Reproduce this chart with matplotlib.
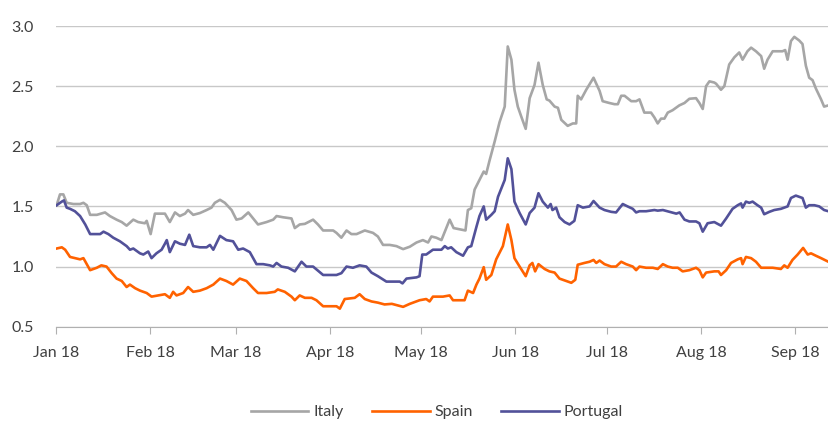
import numpy as np
import pandas as pd
import matplotlib
matplotlib.use('Agg')
import matplotlib.pyplot as plt
import matplotlib.dates as mdates

# 10y spreads style chart: Italy, Spain, Portugal (Jan - Sep 2018)
# x values are days after 1 Jan 2018

italy_days = [0.2, 1.3, 2.4, 3.5, 5.7, 7.9, 9.0, 10.1, 11.2, 13.4, 16.1, 17.7, 19.9, 21.6, 23.2,
              25.4, 27.0, 29.2, 29.8, 31.1, 32.5, 35.8, 37.4, 39.1, 40.7, 42.4, 43.4, 45.1,
              47.3, 49.5, 51.1, 52.2, 53.9, 55.5, 57.7, 59.3, 61.0, 63.2, 64.8, 66.4, 69.2,
              71.4, 72.5, 74.6, 77.4, 78.5, 80.1, 81.8, 84.5, 86.1, 87.8, 91.1, 92.2, 93.8,
              95.5, 97.1, 98.8, 101.5, 104.2, 105.8, 107.5, 109.7, 111.9, 114.1, 116.3, 118.5,
              120.6, 122.3, 123.4, 125.0, 126.7, 127.8, 129.4, 130.7, 132.7, 134.6, 135.4,
              136.5, 137.6, 139.2, 140.6, 141.4, 142.5, 144.2, 145.8, 147.5, 148.5, 149.7,
              150.7, 151.8, 152.9, 154.4, 155.7, 157.3, 158.6, 160.0, 161.3, 162.2, 163.9,
              165.0, 166.1, 168.2, 169.9, 171.0, 171.5, 172.6, 174.3, 176.7, 178.7, 179.7,
              181.9, 183.6, 184.7, 185.8, 186.9, 189.1, 190.7, 191.8, 193.4, 195.6, 196.7,
              197.8, 198.9, 200.0, 201.1, 202.7, 204.9, 206.6, 208.2, 210.4, 211.5, 212.6,
              213.7, 214.8, 216.4, 217.0, 218.6, 219.7, 221.3, 223.0, 224.6, 225.7, 227.3,
              228.5, 230.1, 231.8, 232.8, 233.9, 235.6, 237.2, 238.8, 239.7, 240.5, 241.6,
              242.7, 244.3, 245.4, 246.5, 247.6, 248.7, 249.8, 251.5, 252.5, 253.9]
italy = [1.51, 1.60, 1.60, 1.53, 1.52, 1.52, 1.53, 1.51, 1.43, 1.43, 1.45, 1.42, 1.39, 1.37, 1.34,
         1.39, 1.37, 1.36, 1.38, 1.27, 1.44, 1.44, 1.37, 1.45, 1.42, 1.44, 1.47, 1.43,
         1.445, 1.47, 1.49, 1.53, 1.555, 1.53, 1.47, 1.39, 1.40, 1.45, 1.40, 1.35, 1.37,
         1.39, 1.42, 1.41, 1.40, 1.32, 1.35, 1.355, 1.39, 1.35, 1.30, 1.30, 1.28, 1.24,
         1.30, 1.27, 1.27, 1.30, 1.28, 1.25, 1.18, 1.18, 1.17, 1.145, 1.165, 1.20,
         1.22, 1.20, 1.25, 1.24, 1.22, 1.29, 1.39, 1.32, 1.31, 1.30, 1.47,
         1.485, 1.64, 1.72, 1.79, 1.77, 1.88, 2.04, 2.20, 2.33, 2.83, 2.72,
         2.47, 2.33, 2.25, 2.145, 2.40, 2.51, 2.695, 2.51, 2.39, 2.38, 2.33,
         2.32, 2.22, 2.17, 2.19, 2.19, 2.42, 2.39, 2.47, 2.57, 2.46, 2.375,
         2.36, 2.35, 2.35, 2.42, 2.42, 2.375, 2.375, 2.39, 2.28, 2.28, 2.24,
         2.19, 2.23, 2.23, 2.28, 2.30, 2.34, 2.36, 2.395, 2.40, 2.36, 2.31,
         2.50, 2.54, 2.53, 2.52, 2.47, 2.50, 2.68, 2.74, 2.78, 2.72, 2.79,
         2.82, 2.79, 2.75, 2.645, 2.72, 2.79, 2.79, 2.79, 2.80, 2.72, 2.875,
         2.91, 2.88, 2.85, 2.67, 2.57, 2.55, 2.48, 2.39, 2.33, 2.34]

spain_days = [0.2, 1.9, 3.0, 4.6, 7.9, 9.0, 11.2, 13.4, 14.9, 16.6, 18.3, 19.9, 21.6, 23.2, 24.3,
              26.0, 27.6, 29.8, 31.4, 33.6, 35.8, 37.4, 38.5, 39.6, 41.8, 43.4, 45.1, 47.3,
              49.5, 51.7, 53.9, 56.0, 58.2, 60.4, 62.6, 64.8, 66.4, 69.2, 71.9, 72.9, 75.2,
              77.4, 78.5, 80.1, 81.8, 84.0, 85.6, 87.8, 92.2, 93.3, 94.9, 98.2, 99.8, 101.5,
              103.7, 105.8, 108.0, 110.4, 114.1, 116.3, 119.5, 121.7, 122.8, 123.9, 127.2,
              129.4, 130.5, 134.3, 135.4, 137.1, 138.2, 139.2, 140.6, 141.4, 143.1, 144.7,
              146.9, 148.5, 149.7, 150.7, 152.4, 154.4, 155.7, 156.6, 157.5, 158.6, 160.6,
              162.2, 163.9, 165.5, 167.7, 169.4, 170.7, 171.5, 173.7, 175.4, 176.7, 177.6,
              178.7, 180.3, 182.5, 184.1, 185.8, 187.4, 189.6, 190.7, 191.8, 194.0, 196.2,
              197.8, 199.5, 201.1, 202.7, 204.4, 206.0, 208.2, 210.4, 211.5, 212.6, 213.7,
              216.4, 217.8, 218.6, 220.3, 221.9, 224.1, 225.2, 225.7, 226.8, 228.5, 230.1,
              231.8, 232.8, 235.6, 238.3, 239.4, 240.5, 242.1, 243.8, 245.6, 247.1, 248.2,
              249.8, 251.5, 253.1, 253.9]
spain = [1.15, 1.16, 1.14, 1.08, 1.06, 1.07, 0.97, 0.99, 1.01, 1.00, 0.945, 0.90, 0.88, 0.83, 0.85,
         0.82, 0.80, 0.78, 0.75, 0.76, 0.77, 0.74, 0.79, 0.76, 0.78, 0.83, 0.79, 0.80,
         0.82, 0.85, 0.90, 0.88, 0.85, 0.90, 0.88, 0.82, 0.78, 0.78, 0.79, 0.81, 0.79,
         0.75, 0.72, 0.76, 0.74, 0.74, 0.72, 0.67, 0.67, 0.65, 0.73, 0.74, 0.77, 0.73,
         0.71, 0.70, 0.685, 0.69, 0.665, 0.69, 0.72, 0.73, 0.71, 0.75, 0.75,
         0.76, 0.72, 0.72, 0.80, 0.78, 0.85, 0.90, 0.995, 0.89, 0.93, 1.06,
         1.17, 1.35, 1.22, 1.07, 1.00, 0.92, 1.01, 1.03, 0.96, 1.02, 0.98,
         0.96, 0.95, 0.90, 0.88, 0.865, 0.89, 1.015, 1.03, 1.04, 1.055, 1.03,
         1.05, 1.02, 1.00, 1.00, 1.04, 1.02, 1.00, 0.97, 1.00, 0.99, 0.99,
         0.98, 1.02, 1.00, 0.99, 0.99, 0.96, 0.97, 0.99, 0.97, 0.91, 0.95,
         0.96, 0.96, 0.93, 0.97, 1.03, 1.06, 1.07, 1.02, 1.08, 1.07, 1.04,
         0.99, 0.99, 0.99, 0.98, 1.01, 0.99, 1.055, 1.10, 1.155, 1.10, 1.11,
         1.09, 1.07, 1.05, 1.04]

portugal_days = [0.2, 1.9, 2.6, 3.5, 4.6, 6.2, 7.9, 9.6, 11.2, 14.5, 15.6, 17.2, 18.8, 21.0, 23.2,
                 24.3, 25.4, 27.6, 28.7, 30.3, 31.4, 33.0, 34.7, 35.8, 36.4, 37.4, 39.1, 40.7,
                 42.4, 43.8, 45.1, 47.3, 49.5, 50.6, 51.7, 53.9, 56.0, 58.2, 59.9, 61.5, 63.7,
                 65.9, 68.1, 70.3, 71.4, 72.5, 74.1, 76.3, 78.5, 80.7, 82.3, 84.5, 87.8, 92.2,
                 93.8, 95.5, 97.6, 99.8, 102.0, 103.7, 105.8, 108.6, 113.0, 113.9, 115.2, 118.5,
                 119.5, 120.4, 121.7, 123.9, 126.7, 127.8, 128.8, 129.9, 131.6, 133.8, 135.4,
                 136.5, 138.2, 139.2, 140.6, 141.4, 143.1, 144.2, 145.3, 147.5, 148.5, 149.7,
                 150.7, 152.4, 154.4, 155.7, 157.3, 158.6, 160.0, 161.7, 162.6, 163.2, 164.4,
                 165.5, 167.2, 168.8, 170.4, 171.5, 173.2, 175.4, 176.7, 178.7, 180.3, 182.5,
                 184.1, 186.3, 187.9, 189.6, 190.7, 191.8, 194.0, 196.7, 197.8, 199.5, 201.7,
                 203.9, 205.0, 206.6, 208.2, 210.4, 211.5, 212.6, 214.2, 216.4, 218.6, 220.3,
                 222.4, 224.1, 225.2, 225.7, 226.8, 227.9, 229.0, 230.6, 231.8, 232.8, 234.5,
                 236.1, 238.3, 240.5, 241.6, 243.2, 245.4, 246.5, 247.6, 249.3, 250.9, 252.5,
                 253.9]
portugal = [1.51, 1.54, 1.55, 1.49, 1.48, 1.46, 1.42, 1.35, 1.27, 1.27, 1.29, 1.27, 1.24, 1.21, 1.17,
            1.14, 1.15, 1.11, 1.10, 1.125, 1.07, 1.11, 1.14, 1.19, 1.22, 1.12, 1.21, 1.19,
            1.18, 1.265, 1.17, 1.16, 1.16, 1.18, 1.14, 1.255, 1.22, 1.21, 1.14, 1.15, 1.12,
            1.02, 1.02, 1.01, 1.00, 1.03, 1.00, 0.99, 0.96, 1.04, 1.00, 1.00, 0.93, 0.93,
            0.945, 1.00, 0.99, 1.01, 1.00, 0.95, 0.92, 0.875, 0.875, 0.86, 0.90, 0.91,
            0.92, 1.10, 1.10, 1.14, 1.14, 1.17, 1.15, 1.16, 1.12, 1.09, 1.16,
            1.17, 1.33, 1.42, 1.50, 1.39, 1.43, 1.46, 1.58, 1.72, 1.90, 1.81,
            1.54, 1.445, 1.35, 1.445, 1.49, 1.61, 1.54, 1.49, 1.52, 1.47, 1.49,
            1.41, 1.37, 1.35, 1.38, 1.51, 1.49, 1.50, 1.545, 1.49, 1.47, 1.455,
            1.45, 1.52, 1.50, 1.48, 1.45, 1.46, 1.46, 1.47, 1.465, 1.47, 1.455,
            1.44, 1.45, 1.39, 1.375, 1.375, 1.36, 1.29, 1.36, 1.37, 1.34, 1.40,
            1.48, 1.51, 1.525, 1.49, 1.54, 1.53, 1.54, 1.51, 1.49, 1.435, 1.455,
            1.47, 1.48, 1.50, 1.57, 1.59, 1.57, 1.49, 1.51, 1.51, 1.50, 1.47,
            1.46]

start = pd.Timestamp('2018-01-01')


def to_dates(days):
    return start + pd.to_timedelta(np.array(days), unit='D')


plt.rcParams['font.family'] = ['Lato', 'DejaVu Sans']

fig = plt.figure(figsize=(8.29, 4.25), dpi=100)
ax = fig.add_axes([0.0676, 0.2313, 0.932, 0.7075])

ax.plot(to_dates(italy_days), italy, color='#a6a6a6', lw=1.9, label='Italy')
ax.plot(to_dates(spain_days), spain, color='#ff6200', lw=1.9, label='Spain')
ax.plot(to_dates(portugal_days), portugal, color='#525199', lw=1.9, label='Portugal')

ax.set_ylim(0.5, 3.0)
ax.set_yticks([0.5, 1.0, 1.5, 2.0, 2.5, 3.0])
ax.yaxis.set_major_formatter(plt.FormatStrFormatter('%.1f'))
ax.set_xlim(start, start + pd.Timedelta(days=254))
ax.xaxis.set_major_locator(mdates.MonthLocator())
ax.xaxis.set_major_formatter(mdates.DateFormatter('%b %y'))

ax.grid(axis='y', color='#c8c8c8', lw=1)
ax.set_axisbelow(True)
for s in ['top', 'right', 'left']:
    ax.spines[s].set_visible(False)
ax.spines['bottom'].set_color('#b0b0b0')
ax.tick_params(axis='y', length=0, pad=16, labelsize=11.5, labelcolor='#404040')
ax.tick_params(axis='x', length=5, color='#b0b0b0', pad=9, labelsize=11.5, labelcolor='#404040')

fig.legend(loc='center', bbox_to_anchor=(0.527, 0.03), ncol=3, frameon=False,
           fontsize=11.5, handlelength=3.6, columnspacing=1.8, handletextpad=0.3,
           labelcolor='#404040')

plt.savefig('out.png', dpi=100)
